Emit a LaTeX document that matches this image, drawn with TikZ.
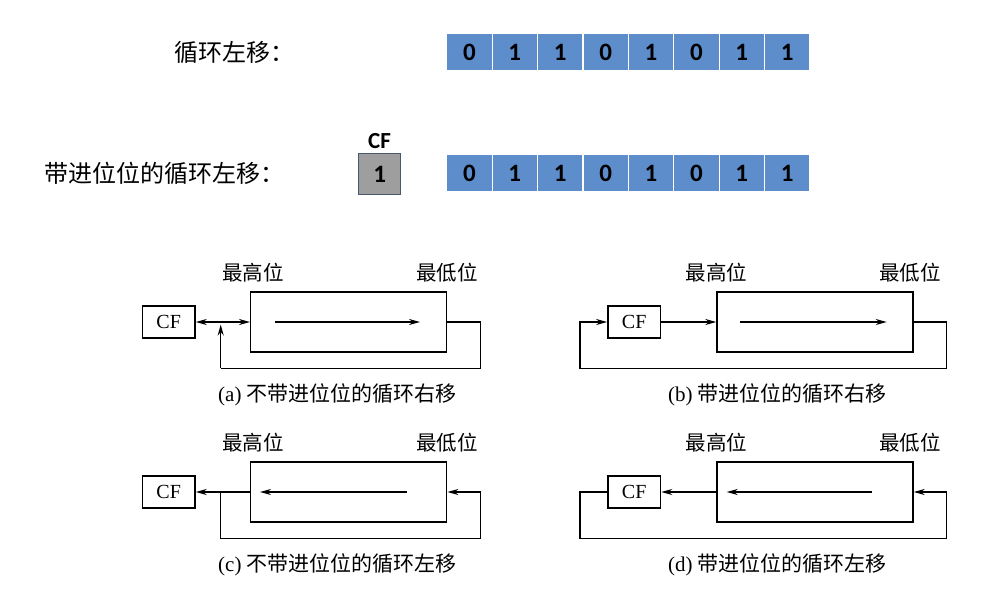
\documentclass[tikz,border=0pt]{standalone}
\usepackage{fontspec}
\setmainfont{Liberation Serif}
\newfontfamily\cjk{Noto Sans CJK SC}
\newfontfamily\digitfont{Carlito}
\usetikzlibrary{arrows.meta,positioning,calc}
\definecolor{cellblue}{RGB}{94,141,204}
\definecolor{cfgrey}{RGB}{158,158,158}
\definecolor{cfedge}{RGB}{72,88,112}

\begin{document}
\begin{tikzpicture}[x=1pt, y=-1pt,
    cell/.style={rectangle, fill=cellblue, draw=white, line width=1.2pt, inner sep=0pt,
                 minimum width=45.4pt, minimum height=37.5pt,
                 font=\digitfont\bfseries\fontsize{25}{25}\selectfont},
    cfcell/.style={rectangle, fill=cfgrey, draw=cfedge, line width=1pt, inner sep=0pt,
                 minimum width=42.5pt, minimum height=41.5pt, anchor=center,
                 font=\digitfont\bfseries\fontsize{25}{25}\selectfont},
    title/.style={anchor=west, inner sep=0pt, font=\cjk\fontsize{24}{24}\selectfont},
    reg/.style={rectangle, draw, line width=1.4pt, minimum width=52.7pt, minimum height=32.3pt,
                inner sep=0pt, font=\fontsize{20}{20}\selectfont},
    shreg/.style={rectangle, draw, line width=1.4pt, minimum width=196pt, minimum height=60pt, inner sep=0pt},
    lab/.style={inner sep=0pt, font=\cjk\fontsize{20.5}{20.5}\selectfont},
    caption/.style={inner sep=0pt, font=\fontsize{21}{21}\selectfont},
    line/.style={line width=1.5pt},
    arr/.style={line width=1.5pt, -{Stealth[length=11pt,width=6pt]}}
]
\useasboundingbox (0,0) rectangle (987,591);

% top: the two register rows
\node[title] (t1) at (174,52) {循环左移：};
\node[title] (t2) at (44,173) {带进位位的循环左移：};
\foreach \b [count=\i] in {0,1,1,0,1,0,1,1} {
  \node[cell] (up\i) at ({446.7+45.4*(\i-0.5)},52) {\b};
  \node[cell] (dn\i) at ({446.7+45.4*(\i-0.5)},173.3) {\b};
}
\node[cfcell] (cfbit) at (379.7,174.2) {1};
\node[font=\digitfont\bfseries\fontsize{23}{23}\selectfont, inner sep=0pt] (cfname) at (379.5,141.5) {CF};

% (a) right rotate, no carry
\node[reg] (cfa) at (168.7,322) {CF};
\node[shreg] (rega) at (348.7,322) {};
\node[lab] (hia) at (253,273) {\cjk 最高位};
\node[lab] (loa) at (447,273) {\cjk 最低位};
\node[caption] (capa) at (337.5,395) {(a) {\cjk 不带进位位的循环右移}};
\coordinate (ia1) at (275,322);
\coordinate (ia2) at (420,322);
\draw[arr] (ia1) -- (ia2);
\coordinate (ja) at (220.7,322);
\coordinate (a1) at (480.7,322);
\coordinate (a2) at (480.7,368.3);
\coordinate (a3) at (220.7,368.3);
\draw[line] (rega.east) -- (a1) -- (a2) -- (a3);
\draw[arr, shorten >=2.5pt] (a3) -- (ja);
\draw[arr] (ja) -- (cfa.east);
\draw[arr] (ja) -- (rega.west);

% (b) right rotate through carry
\node[reg] (cfb) at (634.2,322) {CF};
\node[shreg] (regb) at (815,322) {};
\node[lab] (hib) at (716.7,273) {\cjk 最高位};
\node[lab] (lob) at (910,273) {\cjk 最低位};
\node[caption] (capb) at (777.5,395) {(b) {\cjk 带进位位的循环右移}};
\coordinate (ib1) at (740,322);
\coordinate (ib2) at (886.7,322);
\draw[arr] (ib1) -- (ib2);
\draw[arr] (cfb) -- (regb);
\coordinate (b1) at (946.7,322);
\coordinate (b2) at (946.7,368.3);
\coordinate (b3) at (580,368.3);
\coordinate (b4) at (580,322);
\draw[arr] (regb.east) -- (b1) -- (b2) -- (b3) -- (b4) -- (cfb.west);

% (c) left rotate, no carry
\node[reg] (cfc) at (168.7,492) {CF};
\node[shreg] (regc) at (348.7,492) {};
\node[lab] (hic) at (253,443) {\cjk 最高位};
\node[lab] (loc) at (447,443) {\cjk 最低位};
\node[caption] (capc) at (337.5,565) {(c) {\cjk 不带进位位的循环左移}};
\coordinate (ic1) at (406.7,492);
\coordinate (ic2) at (260,492);
\draw[arr] (ic1) -- (ic2);
\draw[arr] (regc.west) -- (cfc.east);
\coordinate (jc) at (220.7,492);
\coordinate (c1) at (220.7,538.3);
\coordinate (c2) at (480.7,538.3);
\coordinate (c3) at (480.7,492);
\draw[arr] (jc) -- (c1) -- (c2) -- (c3) -- (regc.east);

% (d) left rotate through carry
\node[reg] (cfd) at (634.2,492) {CF};
\node[shreg] (regd) at (815,492) {};
\node[lab] (hid) at (716.7,443) {\cjk 最高位};
\node[lab] (lod) at (910,443) {\cjk 最低位};
\node[caption] (capd) at (777.5,565) {(d) {\cjk 带进位位的循环左移}};
\coordinate (id1) at (871.7,492);
\coordinate (id2) at (726.7,492);
\draw[arr] (id1) -- (id2);
\draw[arr] (regd) -- (cfd);
\coordinate (d1) at (580,492);
\coordinate (d2) at (580,538.3);
\coordinate (d3) at (946.7,538.3);
\coordinate (d4) at (946.7,492);
\draw[arr] (cfd.west) -- (d1) -- (d2) -- (d3) -- (d4) -- (regd.east);
\end{tikzpicture}
\end{document}
